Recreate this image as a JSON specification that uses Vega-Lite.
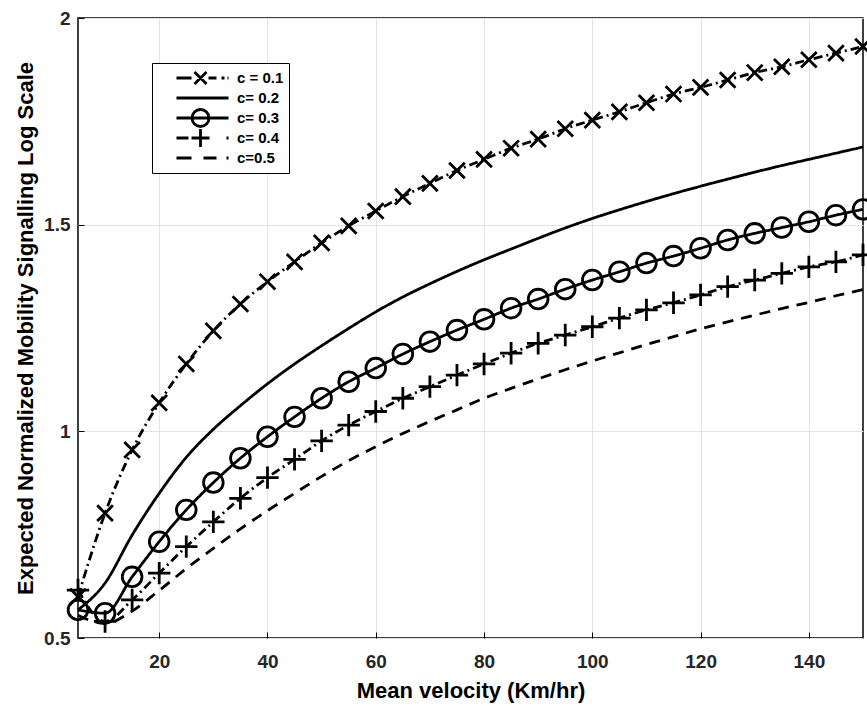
{
  "$schema": "https://vega.github.io/schema/vega-lite/v6.json",
  "width": 785,
  "height": 620,
  "autosize": {"type": "none"},
  "padding": {"left": 78, "top": 18, "right": 4, "bottom": 68},
  "background": "white",
  "config": {
    "view": {"stroke": "black", "strokeWidth": 1.5},
    "font": "Liberation Sans",
    "axis": {
      "labelFont": "Liberation Sans",
      "labelFontSize": 19,
      "labelFontWeight": "bold",
      "labelColor": "#262626",
      "titleFont": "Liberation Sans",
      "titleFontSize": 22,
      "titleFontWeight": "bold",
      "titleColor": "black",
      "domain": false,
      "grid": true,
      "gridColor": "#e3e3e3",
      "gridWidth": 1,
      "ticks": true,
      "tickSize": -6,
      "tickColor": "black",
      "tickWidth": 1
    }
  },
  "data": {
    "values": [
      {"velocity": 5, "norm": 0.6, "c": "c = 0.1"},
      {"velocity": 10, "norm": 0.802, "c": "c = 0.1"},
      {"velocity": 15, "norm": 0.955, "c": "c = 0.1"},
      {"velocity": 20, "norm": 1.069, "c": "c = 0.1"},
      {"velocity": 25, "norm": 1.163, "c": "c = 0.1"},
      {"velocity": 30, "norm": 1.243, "c": "c = 0.1"},
      {"velocity": 35, "norm": 1.308, "c": "c = 0.1"},
      {"velocity": 40, "norm": 1.362, "c": "c = 0.1"},
      {"velocity": 45, "norm": 1.41, "c": "c = 0.1"},
      {"velocity": 50, "norm": 1.456, "c": "c = 0.1"},
      {"velocity": 55, "norm": 1.497, "c": "c = 0.1"},
      {"velocity": 60, "norm": 1.533, "c": "c = 0.1"},
      {"velocity": 65, "norm": 1.568, "c": "c = 0.1"},
      {"velocity": 70, "norm": 1.6, "c": "c = 0.1"},
      {"velocity": 75, "norm": 1.631, "c": "c = 0.1"},
      {"velocity": 80, "norm": 1.658, "c": "c = 0.1"},
      {"velocity": 85, "norm": 1.685, "c": "c = 0.1"},
      {"velocity": 90, "norm": 1.707, "c": "c = 0.1"},
      {"velocity": 95, "norm": 1.732, "c": "c = 0.1"},
      {"velocity": 100, "norm": 1.753, "c": "c = 0.1"},
      {"velocity": 105, "norm": 1.773, "c": "c = 0.1"},
      {"velocity": 110, "norm": 1.795, "c": "c = 0.1"},
      {"velocity": 115, "norm": 1.816, "c": "c = 0.1"},
      {"velocity": 120, "norm": 1.832, "c": "c = 0.1"},
      {"velocity": 125, "norm": 1.85, "c": "c = 0.1"},
      {"velocity": 130, "norm": 1.868, "c": "c = 0.1"},
      {"velocity": 135, "norm": 1.882, "c": "c = 0.1"},
      {"velocity": 140, "norm": 1.899, "c": "c = 0.1"},
      {"velocity": 145, "norm": 1.915, "c": "c = 0.1"},
      {"velocity": 150, "norm": 1.931, "c": "c = 0.1"},

      {"velocity": 5, "norm": 0.568, "c": "c= 0.2"},
      {"velocity": 10, "norm": 0.633, "c": "c= 0.2"},
      {"velocity": 15, "norm": 0.749, "c": "c= 0.2"},
      {"velocity": 20, "norm": 0.85, "c": "c= 0.2"},
      {"velocity": 25, "norm": 0.937, "c": "c= 0.2"},
      {"velocity": 30, "norm": 1.005, "c": "c= 0.2"},
      {"velocity": 35, "norm": 1.062, "c": "c= 0.2"},
      {"velocity": 40, "norm": 1.115, "c": "c= 0.2"},
      {"velocity": 45, "norm": 1.163, "c": "c= 0.2"},
      {"velocity": 50, "norm": 1.207, "c": "c= 0.2"},
      {"velocity": 55, "norm": 1.249, "c": "c= 0.2"},
      {"velocity": 60, "norm": 1.289, "c": "c= 0.2"},
      {"velocity": 65, "norm": 1.325, "c": "c= 0.2"},
      {"velocity": 70, "norm": 1.357, "c": "c= 0.2"},
      {"velocity": 75, "norm": 1.387, "c": "c= 0.2"},
      {"velocity": 80, "norm": 1.415, "c": "c= 0.2"},
      {"velocity": 85, "norm": 1.441, "c": "c= 0.2"},
      {"velocity": 90, "norm": 1.467, "c": "c= 0.2"},
      {"velocity": 95, "norm": 1.492, "c": "c= 0.2"},
      {"velocity": 100, "norm": 1.515, "c": "c= 0.2"},
      {"velocity": 105, "norm": 1.536, "c": "c= 0.2"},
      {"velocity": 110, "norm": 1.556, "c": "c= 0.2"},
      {"velocity": 115, "norm": 1.575, "c": "c= 0.2"},
      {"velocity": 120, "norm": 1.593, "c": "c= 0.2"},
      {"velocity": 125, "norm": 1.61, "c": "c= 0.2"},
      {"velocity": 130, "norm": 1.627, "c": "c= 0.2"},
      {"velocity": 135, "norm": 1.643, "c": "c= 0.2"},
      {"velocity": 140, "norm": 1.658, "c": "c= 0.2"},
      {"velocity": 145, "norm": 1.673, "c": "c= 0.2"},
      {"velocity": 150, "norm": 1.688, "c": "c= 0.2"},

      {"velocity": 5, "norm": 0.568, "c": "c= 0.3"},
      {"velocity": 10, "norm": 0.56, "c": "c= 0.3"},
      {"velocity": 15, "norm": 0.648, "c": "c= 0.3"},
      {"velocity": 20, "norm": 0.733, "c": "c= 0.3"},
      {"velocity": 25, "norm": 0.81, "c": "c= 0.3"},
      {"velocity": 30, "norm": 0.876, "c": "c= 0.3"},
      {"velocity": 35, "norm": 0.935, "c": "c= 0.3"},
      {"velocity": 40, "norm": 0.987, "c": "c= 0.3"},
      {"velocity": 45, "norm": 1.035, "c": "c= 0.3"},
      {"velocity": 50, "norm": 1.08, "c": "c= 0.3"},
      {"velocity": 55, "norm": 1.12, "c": "c= 0.3"},
      {"velocity": 60, "norm": 1.153, "c": "c= 0.3"},
      {"velocity": 65, "norm": 1.187, "c": "c= 0.3"},
      {"velocity": 70, "norm": 1.217, "c": "c= 0.3"},
      {"velocity": 75, "norm": 1.245, "c": "c= 0.3"},
      {"velocity": 80, "norm": 1.271, "c": "c= 0.3"},
      {"velocity": 85, "norm": 1.298, "c": "c= 0.3"},
      {"velocity": 90, "norm": 1.32, "c": "c= 0.3"},
      {"velocity": 95, "norm": 1.344, "c": "c= 0.3"},
      {"velocity": 100, "norm": 1.366, "c": "c= 0.3"},
      {"velocity": 105, "norm": 1.386, "c": "c= 0.3"},
      {"velocity": 110, "norm": 1.407, "c": "c= 0.3"},
      {"velocity": 115, "norm": 1.424, "c": "c= 0.3"},
      {"velocity": 120, "norm": 1.443, "c": "c= 0.3"},
      {"velocity": 125, "norm": 1.463, "c": "c= 0.3"},
      {"velocity": 130, "norm": 1.479, "c": "c= 0.3"},
      {"velocity": 135, "norm": 1.493, "c": "c= 0.3"},
      {"velocity": 140, "norm": 1.507, "c": "c= 0.3"},
      {"velocity": 145, "norm": 1.523, "c": "c= 0.3"},
      {"velocity": 150, "norm": 1.537, "c": "c= 0.3"},

      {"velocity": 5, "norm": 0.616, "c": "c= 0.4"},
      {"velocity": 10, "norm": 0.54, "c": "c= 0.4"},
      {"velocity": 15, "norm": 0.592, "c": "c= 0.4"},
      {"velocity": 20, "norm": 0.657, "c": "c= 0.4"},
      {"velocity": 25, "norm": 0.721, "c": "c= 0.4"},
      {"velocity": 30, "norm": 0.781, "c": "c= 0.4"},
      {"velocity": 35, "norm": 0.838, "c": "c= 0.4"},
      {"velocity": 40, "norm": 0.888, "c": "c= 0.4"},
      {"velocity": 45, "norm": 0.932, "c": "c= 0.4"},
      {"velocity": 50, "norm": 0.977, "c": "c= 0.4"},
      {"velocity": 55, "norm": 1.015, "c": "c= 0.4"},
      {"velocity": 60, "norm": 1.048, "c": "c= 0.4"},
      {"velocity": 65, "norm": 1.08, "c": "c= 0.4"},
      {"velocity": 70, "norm": 1.108, "c": "c= 0.4"},
      {"velocity": 75, "norm": 1.136, "c": "c= 0.4"},
      {"velocity": 80, "norm": 1.163, "c": "c= 0.4"},
      {"velocity": 85, "norm": 1.189, "c": "c= 0.4"},
      {"velocity": 90, "norm": 1.213, "c": "c= 0.4"},
      {"velocity": 95, "norm": 1.233, "c": "c= 0.4"},
      {"velocity": 100, "norm": 1.253, "c": "c= 0.4"},
      {"velocity": 105, "norm": 1.274, "c": "c= 0.4"},
      {"velocity": 110, "norm": 1.294, "c": "c= 0.4"},
      {"velocity": 115, "norm": 1.311, "c": "c= 0.4"},
      {"velocity": 120, "norm": 1.33, "c": "c= 0.4"},
      {"velocity": 125, "norm": 1.35, "c": "c= 0.4"},
      {"velocity": 130, "norm": 1.366, "c": "c= 0.4"},
      {"velocity": 135, "norm": 1.382, "c": "c= 0.4"},
      {"velocity": 140, "norm": 1.398, "c": "c= 0.4"},
      {"velocity": 145, "norm": 1.41, "c": "c= 0.4"},
      {"velocity": 150, "norm": 1.427, "c": "c= 0.4"},

      {"velocity": 5, "norm": 0.555, "c": "c=0.5"},
      {"velocity": 10, "norm": 0.535, "c": "c=0.5"},
      {"velocity": 15, "norm": 0.565, "c": "c=0.5"},
      {"velocity": 20, "norm": 0.615, "c": "c=0.5"},
      {"velocity": 25, "norm": 0.668, "c": "c=0.5"},
      {"velocity": 30, "norm": 0.717, "c": "c=0.5"},
      {"velocity": 35, "norm": 0.764, "c": "c=0.5"},
      {"velocity": 40, "norm": 0.808, "c": "c=0.5"},
      {"velocity": 45, "norm": 0.85, "c": "c=0.5"},
      {"velocity": 50, "norm": 0.891, "c": "c=0.5"},
      {"velocity": 55, "norm": 0.929, "c": "c=0.5"},
      {"velocity": 60, "norm": 0.963, "c": "c=0.5"},
      {"velocity": 65, "norm": 0.995, "c": "c=0.5"},
      {"velocity": 70, "norm": 1.024, "c": "c=0.5"},
      {"velocity": 75, "norm": 1.052, "c": "c=0.5"},
      {"velocity": 80, "norm": 1.08, "c": "c=0.5"},
      {"velocity": 85, "norm": 1.104, "c": "c=0.5"},
      {"velocity": 90, "norm": 1.127, "c": "c=0.5"},
      {"velocity": 95, "norm": 1.149, "c": "c=0.5"},
      {"velocity": 100, "norm": 1.17, "c": "c=0.5"},
      {"velocity": 105, "norm": 1.19, "c": "c=0.5"},
      {"velocity": 110, "norm": 1.21, "c": "c=0.5"},
      {"velocity": 115, "norm": 1.229, "c": "c=0.5"},
      {"velocity": 120, "norm": 1.248, "c": "c=0.5"},
      {"velocity": 125, "norm": 1.265, "c": "c=0.5"},
      {"velocity": 130, "norm": 1.281, "c": "c=0.5"},
      {"velocity": 135, "norm": 1.297, "c": "c=0.5"},
      {"velocity": 140, "norm": 1.312, "c": "c=0.5"},
      {"velocity": 145, "norm": 1.328, "c": "c=0.5"},
      {"velocity": 150, "norm": 1.343, "c": "c=0.5"}
    ]
  },
  "encoding": {
    "x": {
      "field": "velocity",
      "type": "quantitative",
      "scale": {"domain": [5, 150], "nice": false, "zero": false},
      "axis": {
        "title": "Mean velocity (Km/hr)",
        "values": [20, 40, 60, 80, 100, 120, 140],
        "format": "d",
        "labelPadding": 20,
        "titlePadding": 9
      }
    },
    "y": {
      "field": "norm",
      "type": "quantitative",
      "scale": {"domain": [0.5, 2], "nice": false, "zero": false},
      "axis": {
        "title": "Expected Normalized Mobility Signalling Log Scale",
        "values": [0.5, 1, 1.5, 2],
        "format": "~g",
        "labelPadding": 14,
        "titlePadding": 6
      }
    }
  },
  "layer": [
    {
      "mark": {"type": "line", "stroke": "black", "strokeWidth": 2.8, "interpolate": "monotone"},
      "encoding": {
        "strokeDash": {
          "field": "c",
          "type": "nominal",
          "scale": {
            "domain": ["c=0.5", "c= 0.4", "c= 0.3", "c= 0.2", "c = 0.1"],
            "range": [[11, 8], [9, 4, 2, 4], [1, 0], [1, 0], [9, 4, 2, 4]]
          },
          "legend": null
        },
        "opacity": {
          "field": "c",
          "type": "nominal",
          "scale": {
            "domain": ["c = 0.1", "c= 0.2", "c= 0.3", "c= 0.4", "c=0.5"],
            "range": [1, 1, 1, 1, 1]
          },
          "legend": {
            "title": null,
            "orient": "none",
            "legendX": 74,
            "legendY": 45,
            "strokeColor": "black",
            "fillColor": "white",
            "padding": 5,
            "labelFont": "Liberation Sans",
            "labelFontSize": 15,
            "labelFontWeight": "bold",
            "labelColor": "black",
            "symbolSize": 400,
            "symbolOffset": 34,
            "labelOffset": 23,
            "rowPadding": 0,
            "clipHeight": 20,
            "labelExpr": "(indexof(['c= 0.2', 'c= 0.3', 'c= 0.4'], datum.label) >= 0 ? '\u00a0' + datum.label : datum.label) + '\u00a0\u00a0'",
            "encoding": {
              "symbols": {
                "shape": {"value": {"expr": "datum.value === 'c = 0.1' ? 'M-2.6,0H-1.1M0.6,0H1.4M1.9,0H2.2M2.5,0H2.6M-0.8,-0.6L0.4,0.6M-0.8,0.6L0.4,-0.6' : datum.value === 'c= 0.2' ? 'M-2.6,0H2.6' : datum.value === 'c= 0.3' ? 'M-2.6,0H2.6M0.65,0A0.85,0.85 0 1,1 -1.05,0A0.85,0.85 0 1,1 0.65,0' : datum.value === 'c= 0.4' ? 'M-2.6,0H-1.4M-1.1,0H0.7M-0.2,-0.9V0.9M2.4,0H2.6' : 'M-2.6,0H-1.1M0.1,0H1.4M2.4,0H2.6'"}},
                "stroke": {"value": "black"},
                "strokeWidth": {"value": 2.8},
                "fill": {"value": "transparent"},
                "opacity": {"value": 1}
              }
            }
          }
        }
      }
    },
    {
      "transform": [{"filter": {"field": "c", "oneOf": ["c = 0.1", "c= 0.3", "c= 0.4"]}}],
      "mark": {"type": "point", "filled": false, "stroke": "black", "strokeWidth": 2.8, "size": 500, "opacity": 1},
      "encoding": {
        "shape": {
          "field": "c",
          "type": "nominal",
          "scale": {
            "domain": ["c = 0.1", "c= 0.3", "c= 0.4"],
            "range": [
              "M-0.7,-0.7L0.7,0.7M-0.7,0.7L0.7,-0.7",
              "M0.88,0A0.88,0.88 0 1,1 -0.88,0A0.88,0.88 0 1,1 0.88,0",
              "M-1,0H1M0,-1V1"
            ]
          },
          "legend": null
        }
      }
    }
  ]
}
